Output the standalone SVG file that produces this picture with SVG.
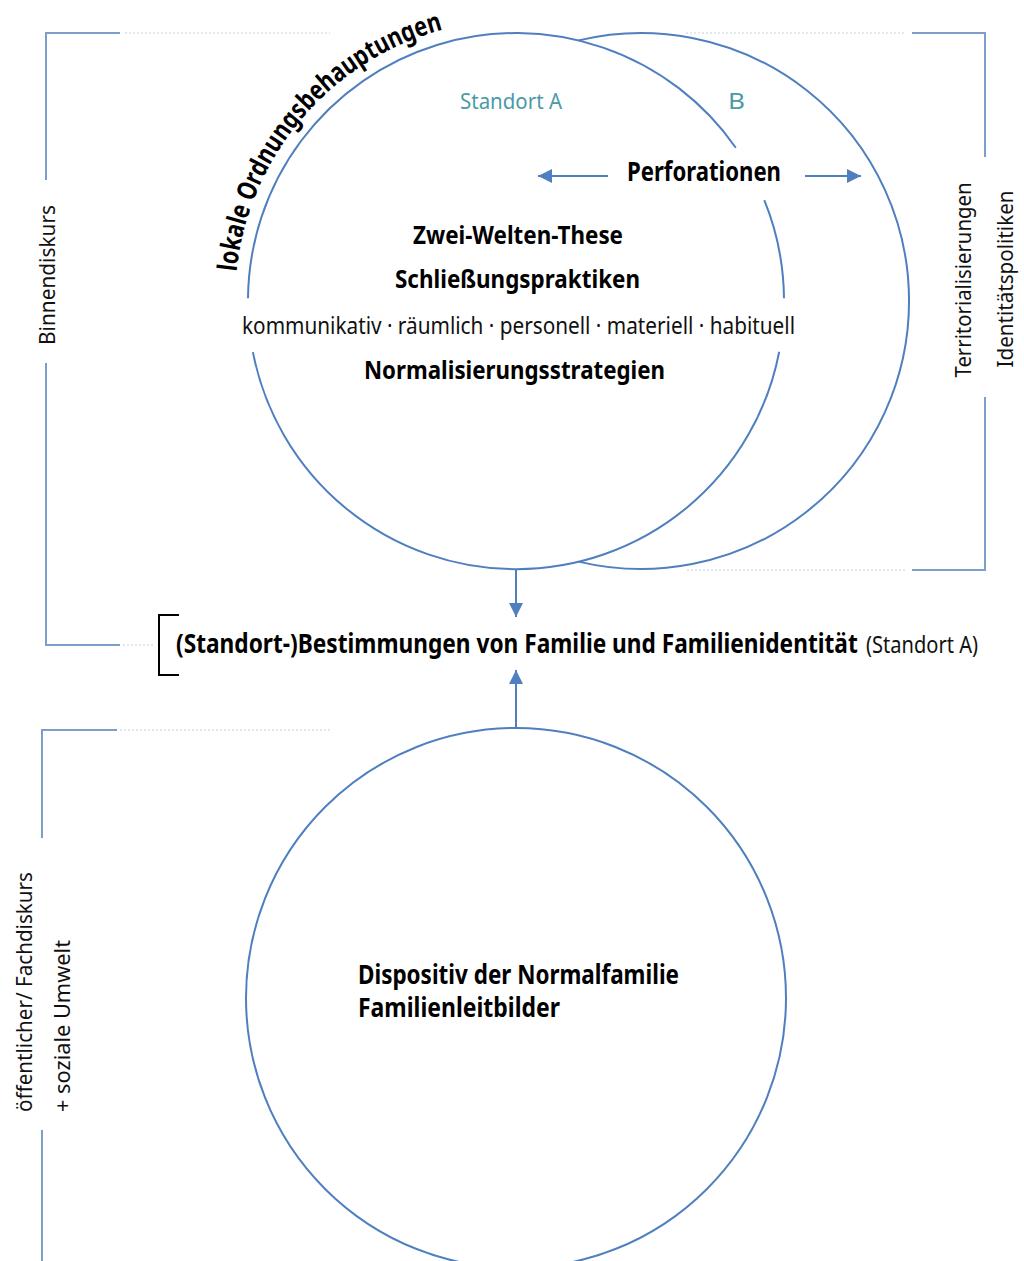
<svg xmlns="http://www.w3.org/2000/svg" width="1024" height="1261" viewBox="0 0 1024 1261">
<style>
.circ{fill:none;stroke:#4f7fbf;stroke-width:2}
.brk{fill:none;stroke:#7d9dcb;stroke-width:2}
.dot{fill:none;stroke:#c2cfe0;stroke-width:1.2;stroke-dasharray:2 2}
.conn{fill:none;stroke:#4f7fbf;stroke-width:2}
.b{font-family:"Noto Sans","Open Sans","Liberation Sans",sans-serif;font-weight:bold;fill:#000}
.r{font-family:"Noto Sans","Open Sans","Liberation Sans",sans-serif;font-weight:normal;fill:#111}
.teal{font-family:"Noto Sans","Open Sans","Liberation Sans",sans-serif;fill:#4b9aa6}
</style>
<defs>
<marker id="ah" markerUnits="userSpaceOnUse" markerWidth="16" markerHeight="16" viewBox="0 0 16 16" refX="15" refY="8" orient="auto">
<path d="M1,1 L15,8 L1,15 Z" fill="#4f7fbf"/>
</marker>
<path id="arcText" d="M236.5,271.6 A281,281 0 0 1 476.9,22.7"/>
</defs>
<rect width="1024" height="1261" fill="#fff"/>

<g id="brackets">
<path class="brk" d="M120,33 H46 V180"/>
<path class="dot" d="M125,33 H330"/>
<path class="brk" d="M46,363 V645 H120"/>
<path class="dot" d="M123,645 H155"/>
<path class="brk" d="M912,33 H985 V157"/>
<path class="dot" d="M686,33 H906"/>
<path class="brk" d="M985,397 V570 H912"/>
<path class="dot" d="M687,570 H906"/>
<path class="brk" d="M117,730 H42 V838"/>
<path class="dot" d="M120,730 H330"/>
<path class="brk" d="M42,1130 V1261"/>
</g>

<g id="circleA">
<path class="circ" d="M779.2,351.7 A268,268 0 0 1 252.9,352.1"/>
<path class="circ" d="M248,298.2 A268,268 0 0 1 735.8,147.7"/>
<path class="circ" d="M764.3,200.2 A268,268 0 0 1 784,298.2"/>
<text class="teal" x="460" y="109" font-size="22" textLength="102" lengthAdjust="spacingAndGlyphs">Standort A</text>
<text class="b" x="413" y="244" font-size="25" textLength="210" lengthAdjust="spacingAndGlyphs">Zwei-Welten-These</text>
<text class="b" x="395" y="288" font-size="25" textLength="245" lengthAdjust="spacingAndGlyphs">Schließungspraktiken</text>
<text class="r" x="242" y="334" font-size="23" textLength="553" lengthAdjust="spacingAndGlyphs">kommunikativ · räumlich · personell · materiell · habituell</text>
<text class="b" x="364" y="379" font-size="25" textLength="301" lengthAdjust="spacingAndGlyphs">Normalisierungsstrategien</text>
<text class="b" font-size="27"><textPath href="#arcText" textLength="338" lengthAdjust="spacingAndGlyphs">lokale Ordnungsbehauptungen</textPath></text>
</g>

<g id="circleB">
<path class="circ" d="M578.5,40.4 A268,268 0 1 1 578.5,561.6"/>
<text class="teal" x="728" y="109" font-size="22" textLength="17" lengthAdjust="spacingAndGlyphs">B</text>
</g>

<g id="perforationen">
<text class="b" x="627" y="181" font-size="26" textLength="154" lengthAdjust="spacingAndGlyphs">Perforationen</text>
</g>

<g id="bestimmungen">
<path d="M179,615 H159 V675 H179" fill="none" stroke="#000" stroke-width="2"/>
<text class="b" transform="translate(176,653) scale(0.75,1)" x="0" y="0" font-size="26" textLength="909" lengthAdjust="spacingAndGlyphs">(Standort-)Bestimmungen von Familie und Familienidentität</text>
<text class="r" x="866" y="653" font-size="24" textLength="112" lengthAdjust="spacingAndGlyphs">(Standort A)</text>
</g>

<g id="circleC">
<circle class="circ" cx="516" cy="998" r="270"/>
<text class="b" x="358" y="984" font-size="26" textLength="321" lengthAdjust="spacingAndGlyphs">Dispositiv der Normalfamilie</text>
<text class="b" x="358" y="1017" font-size="26" textLength="202" lengthAdjust="spacingAndGlyphs">Familienleitbilder</text>
</g>

<g id="labels">
<text class="r" transform="translate(55,275) rotate(-90)" text-anchor="middle" font-size="22" textLength="140" lengthAdjust="spacingAndGlyphs">Binnendiskurs</text>
<text class="r" transform="translate(971,280) rotate(-90)" text-anchor="middle" font-size="22" textLength="195" lengthAdjust="spacingAndGlyphs">Territorialisierungen</text>
<text class="r" transform="translate(1013,279) rotate(-90)" text-anchor="middle" font-size="22" textLength="177" lengthAdjust="spacingAndGlyphs">Identitätspolitiken</text>
<text class="r" transform="translate(32,1112) rotate(-90)" font-size="22" textLength="240" lengthAdjust="spacingAndGlyphs">öffentlicher/ Fachdiskurs</text>
<text class="r" transform="translate(70,1112) rotate(-90)" font-size="22" textLength="172" lengthAdjust="spacingAndGlyphs">+ soziale Umwelt</text>
</g>

<g id="connectors">
<path class="conn" d="M516,569 V617" marker-end="url(#ah)"/>
<path class="conn" d="M516,728 V670" marker-end="url(#ah)"/>
<path class="conn" d="M608,176 H538" marker-end="url(#ah)"/>
<path class="conn" d="M805,176 H861" marker-end="url(#ah)"/>
</g>
</svg>
